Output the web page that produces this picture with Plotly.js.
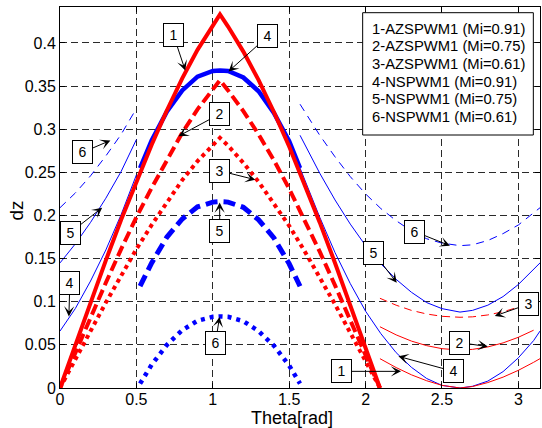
<!DOCTYPE html>
<html><head><meta charset="utf-8">
<script src="https://cdn.plot.ly/plotly-3.0.1.min.js"></script>
<style>html,body{margin:0;padding:0;background:#fff}#chart{width:542px;height:428px}</style>
</head><body><div id="chart"></div>
<script>
// ---- data ----
const xAZ = [0, 0.1, 0.2, 0.3, 0.4, 0.5, 0.6, 0.7, 0.8, 0.9, 1.0, 1.047, 1.1, 1.2, 1.3, 1.4, 1.5, 1.6, 1.7, 1.8, 1.9, 2.0, 2.094];
const az1 = [0, 0.050, 0.099, 0.148, 0.195, 0.240, 0.282, 0.322, 0.359, 0.392, 0.421, 0.433, 0.419, 0.390, 0.357, 0.320, 0.280, 0.237, 0.192, 0.145, 0.096, 0.047, 0];
const az2 = [0, 0.041, 0.082, 0.122, 0.161, 0.198, 0.232, 0.265, 0.296, 0.323, 0.347, 0.357, 0.345, 0.321, 0.294, 0.264, 0.231, 0.195, 0.158, 0.119, 0.079, 0.039, 0];
const az3 = [0, 0.034, 0.066, 0.099, 0.131, 0.161, 0.189, 0.216, 0.241, 0.263, 0.282, 0.290, 0.281, 0.261, 0.239, 0.214, 0.188, 0.159, 0.129, 0.097, 0.064, 0.031, 0];

const xAZRight = [2.094, 2.2, 2.3, 2.4, 2.5, 2.618, 2.7, 2.8, 2.9, 3.0, 3.1, 3.1416];
const az1R = [0.034, 0.0237, 0.0153, 0.0084, 0.0031, 0, 0.0017, 0.0063, 0.0126, 0.0205, 0.0298, 0.034];
const az2R = [0.071, 0.0616, 0.0544, 0.0491, 0.0456, 0.044, 0.0448, 0.0476, 0.0523, 0.0588, 0.067, null];
const az3R = [0.104, 0.096, 0.090, 0.0858, 0.0831, 0.082, 0.0825, 0.0847, 0.0884, 0.0937, 0.1006, 0.104];

const xNS = [0.524, 0.6, 0.7, 0.8, 0.9, 1.0, 1.047, 1.1, 1.2, 1.3, 1.4, 1.5, 1.571];
const ns1 = [0.255, 0.287, 0.3205, 0.345, 0.361, 0.3675, 0.368, 0.3675, 0.360, 0.344, 0.319, 0.286, 0.255];
const ns2 = [0.118, 0.145, 0.175, 0.196, 0.210, 0.2155, 0.216, 0.2155, 0.2095, 0.195, 0.174, 0.144, 0.118];
const ns3 = [0.005, 0.027, 0.050, 0.067, 0.078, 0.0825, 0.083, 0.0825, 0.0775, 0.066, 0.049, 0.026, 0.005];

const xNSLeft = [0, 0.1, 0.2, 0.3, 0.4, 0.5];
const ns1L = [0.066, 0.092, 0.124, 0.160, 0.201, 0.247];
const ns2L = [0.145, 0.167, 0.192, 0.220, 0.251, 0.288];
const ns3L = [0.209, 0.226, 0.246, 0.269, 0.294, 0.324];

const xNSRight = [1.571, 1.7, 1.8, 1.9, 2.0, 2.1, 2.2, 2.3, 2.4, 2.5, 2.618, 2.7, 2.8, 2.9, 3.0, 3.1, 3.1416];
const ns1R = [0.255, 0.198, 0.157, 0.121, 0.089, 0.063, 0.041, 0.024, 0.011, 0.003, 0, 0.002, 0.008, 0.019, 0.035, 0.055, 0.066];
const ns2R = [0.293, 0.249, 0.218, 0.190, 0.165, 0.144, 0.126, 0.111, 0.099, 0.092, 0.088, 0.090, 0.096, 0.106, 0.120, 0.137, 0.145];
const ns3R = [0.329, 0.293, 0.268, 0.245, 0.225, 0.208, 0.194, 0.182, 0.173, 0.168, 0.165, 0.166, 0.171, 0.179, 0.189, 0.2025, 0.209];

const legendLabels = ['1-AZSPWM1 (Mi=0.91)', '2-AZSPWM1 (Mi=0.75)', '3-AZSPWM1 (Mi=0.61)',
                      '4-NSPWM1 (Mi=0.91)', '5-NSPWM1 (Mi=0.75)', '6-NSPWM1 (Mi=0.61)'];
const xTickVals = [0, 0.5, 1, 1.5, 2, 2.5, 3];
const xTickText = ['0', '0.5', '1', '1.5', '2', '2.5', '3'];
const yTickVals = [0, 0.05, 0.1, 0.15, 0.2, 0.25, 0.3, 0.35, 0.4];
const yTickText = ['0', '0.05', '0.1', '0.15', '0.2', '0.25', '0.3', '0.35', '0.4'];

// callout labels: [text, tipX, tipY, boxOffsetX(px), boxOffsetY(px)]
const callouts = [
  ['1', 0.820, 0.368, -12, -36],
  ['4', 1.103, 0.367, 39, -35],
  ['2', 0.776, 0.292, 41, -22],
  ['3', 1.278, 0.2415, -36, -9],
  ['5', 1.045, 0.215, 0, 28],
  ['6', 1.044, 0.0823, -4, 26],
  ['6', 0.330, 0.287, -28, 12],
  ['5', 0.276, 0.209, -32, 25],
  ['4', 0.058, 0.083, 1, -33],
  ['6', 2.552, 0.165, -35, -14],
  ['5', 2.204, 0.122, -23, -30],
  ['3', 2.846, 0.0835, 34, -12],
  ['2', 2.800, 0.048, -28, -4],
  ['4', 2.215, 0.0367, 55, 15],
  ['1', 2.232, 0.0193, -60, 0]
];

const RED = '#ff0000', BLUE = '#0000ff';
function tr(x, y, color, width, dash) {
  return {x: x, y: y, type: 'scatter', mode: 'lines', hoverinfo: 'skip', showlegend: false,
          line: {color: color, width: width, dash: dash || 'solid'}};
}
const traces = [
  tr(xNSLeft, ns1L, BLUE, 1), tr(xNSLeft, ns2L, BLUE, 1), tr(xNSLeft, ns3L, BLUE, 1, '8px,6px'),
  tr(xNSRight, ns1R, BLUE, 1), tr(xNSRight, ns2R, BLUE, 1), tr(xNSRight, ns3R, BLUE, 1, '8px,6px'),
  tr(xAZRight, az1R, RED, 1), tr(xAZRight, az2R, RED, 1), tr(xAZRight, az3R, RED, 1, '8px,5px'),
  tr(xNS, ns1, BLUE, 4.5), tr(xNS, ns2, BLUE, 5, '12px,6px'), tr(xNS, ns3, BLUE, 4.5, '4px,5px'),
  tr(xAZ, az1, RED, 4), tr(xAZ, az2, RED, 4, '11px,5px'), tr(xAZ, az3, RED, 4, '4px,4px')
];

const FONT = 'Liberation Sans, Arial, Helvetica, sans-serif';
const annotations = callouts.map(c => ({
  text: c[0], x: c[1], y: c[2], xref: 'x', yref: 'y', ax: c[3], ay: c[4], axref: 'pixel', ayref: 'pixel',
  showarrow: true, arrowhead: 3, arrowsize: 1.7, arrowwidth: 1, arrowcolor: '#000',
  font: {family: FONT, size: 14, color: '#000'}, bgcolor: '#fff', bordercolor: '#000', borderwidth: 1,
  borderpad: 3, width: 13, height: 16
}));
const legendY = [28.8, 46.4, 64, 81.6, 99.2, 116.8];
legendLabels.forEach((t, i) => annotations.push({
  text: t, xref: 'paper', yref: 'paper', x: (370 - 60) / 480, y: (388 - legendY[i]) / 381,
  xanchor: 'left', yanchor: 'middle', showarrow: false,
  font: {family: FONT, size: 14.8, color: '#000'}
}));
annotations.push({text: 'Theta[rad]', xref: 'paper', yref: 'paper', x: (292.3 - 60) / 480, y: (388 - 417.5) / 381,
  xanchor: 'center', yanchor: 'middle', showarrow: false, font: {family: FONT, size: 18, color: '#000'}});
annotations.push({text: 'dz', xref: 'paper', yref: 'paper', x: (16 - 60) / 480, y: (388 - 210.5) / 381,
  xanchor: 'center', yanchor: 'middle', showarrow: false, textangle: -90, font: {family: FONT, size: 19, color: '#000'}});

const layout = {
  width: 542, height: 428, margin: {l: 60, r: 2, t: 7, b: 40},
  paper_bgcolor: '#fff', plot_bgcolor: '#fff', showlegend: false,
  font: {family: FONT, size: 16, color: '#000'},
  xaxis: {range: [0, 3.1416], tickvals: xTickVals, ticktext: xTickText, ticks: 'inside', ticklen: 5,
          tickcolor: '#000', showline: true, linecolor: '#000', linewidth: 1, mirror: 'ticks',
          showgrid: true, gridcolor: '#2a2a2a', griddash: '7px,4px', gridwidth: 1, zeroline: false,
          tickfont: {size: 16}, ticklabelstandoff: -3},
  yaxis: {range: [0, 0.4417], tickvals: yTickVals, ticktext: yTickText, ticks: 'inside', ticklen: 5,
          tickcolor: '#000', showline: true, linecolor: '#000', linewidth: 1, mirror: 'ticks',
          showgrid: true, gridcolor: '#2a2a2a', griddash: '7px,4px', gridwidth: 1, zeroline: false,
          tickfont: {size: 16}},
  shapes: [{type: 'rect', xref: 'x', yref: 'y', x0: 1.981, x1: 3.098, y0: 0.2933, y1: 0.4351,
            fillcolor: '#fff', line: {color: '#000', width: 1}, layer: 'above'}],
  annotations: annotations
};
Plotly.newPlot('chart', traces, layout, {staticPlot: true});
</script></body></html>
